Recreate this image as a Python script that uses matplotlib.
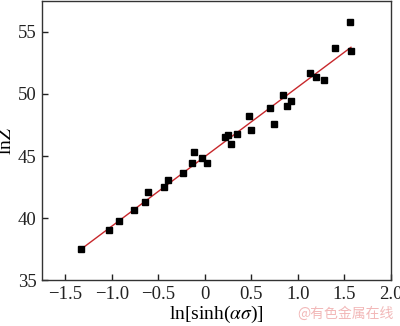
import numpy as np
import matplotlib
matplotlib.use("Agg")
import matplotlib.pyplot as plt

plt.rcParams['font.family'] = ['Liberation Serif', 'DejaVu Serif']
plt.rcParams['mathtext.fontset'] = 'stix'

# data
ln_sinh = [-1.327, -1.035, -0.924, -0.764, -0.646, -0.606, -0.435, -0.392,
           -0.238, -0.135, -0.113, -0.031, 0.019, 0.219, 0.248, 0.276,
           0.345, 0.476, 0.498, 0.698, 0.748, 0.838, 0.884, 0.930,
           1.127, 1.195, 1.283, 1.401, 1.559, 1.570]
lnZ = [37.47, 39.00, 39.74, 40.66, 41.30, 42.07, 42.50, 43.03,
       43.63, 44.46, 45.29, 44.81, 44.40, 46.55, 46.69, 45.93,
       46.77, 48.24, 47.11, 48.86, 47.60, 49.93, 49.04, 49.42,
       51.72, 51.37, 51.16, 53.68, 55.77, 53.46]
x_ticks = [-1.5, -1.0, -0.5, 0.0, 0.5, 1.0, 1.5, 2.0]
y_ticks = [35, 40, 45, 50, 55]

x = np.array(ln_sinh)
y = np.array(lnZ)
slope, intercept = np.polyfit(x, y, 1)
xf = np.array([x.min(), x.max()])

fig = plt.figure(figsize=(4.0, 3.26), dpi=100)
ax = fig.add_axes([0.105, 0.141, 0.8725, 0.856])

ax.plot(xf, slope * xf + intercept, color='#c8282c', lw=1.0, zorder=2)
ax.plot(x, y, 's', color='black', markersize=5, zorder=3)

ax.set_xlim(-1.75, 2.0)
ax.set_ylim(35, 57.5)
ax.set_xticks(x_ticks)
ax.set_xticklabels(['\u22121.5', '\u22121.0', '\u22120.5', '0', '0.5', '1.0', '1.5', '2.0'])
ax.set_yticks(y_ticks)
ax.tick_params(direction='in', length=4, width=1, labelsize=13.5, colors='#222222',
               top=False, right=False, pad=4)
for s in ax.spines.values():
    s.set_linewidth(1.0)
    s.set_color('#333333')

ax.set_xlabel(r'ln[sinh($\alpha\sigma$)]', fontsize=14, labelpad=1)
ax.set_ylabel(r'ln$Z$', fontsize=14, labelpad=2)

fig.text(0.985, 0.015, '@有色金属在线', color='#f2b8b8', fontsize=10,
         ha='right', va='bottom', family=['Noto Sans CJK SC', 'DejaVu Sans'])

fig.savefig('out.png', dpi=100)
